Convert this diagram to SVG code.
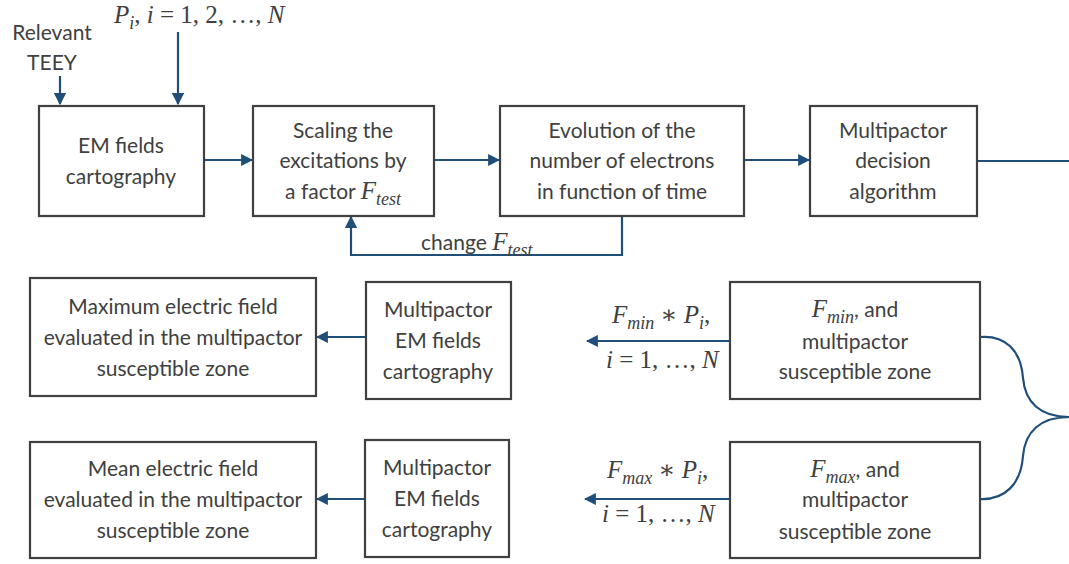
<svg xmlns="http://www.w3.org/2000/svg" width="1069" height="564" viewBox="0 0 1069 564">
<style>
.box{fill:#fff;stroke:#404040;stroke-width:2.2}
.t{font-family:Lato,"Liberation Sans",sans-serif;font-size:21px;fill:#404040;text-anchor:middle}
.m{font-family:"Liberation Serif","DejaVu Serif",serif;font-style:italic;font-size:25px;fill:#404040}
.mu{font-family:"Liberation Serif","DejaVu Serif",serif;font-style:normal;font-size:25px;fill:#404040}
.s{font-family:"Liberation Serif","DejaVu Serif",serif;font-style:italic;font-size:18px;fill:#404040}
.c{fill:none;stroke:#1F4E79;stroke-width:2.2}
</style>
<defs>
<marker id="ah" viewBox="0 0 10 10" refX="9" refY="5" markerWidth="5.5" markerHeight="5.5" orient="auto" markerUnits="strokeWidth">
<path d="M0,0 L10,5 L0,10 z" fill="#1F4E79"/>
</marker>
</defs>
<rect width="1069" height="564" fill="#fff"/>

<g id="inputs">
<text class="t" x="52" y="40">Relevant</text>
<text class="t" x="52" y="70">TEEY</text>
<text x="114" y="23"><tspan class="m">P</tspan><tspan class="s" dy="6">i</tspan><tspan class="mu" dy="-6">, </tspan><tspan class="m">i</tspan><tspan class="mu"> = 1, 2, …, </tspan><tspan class="m">N</tspan></text>
</g>

<g id="connectors">
<line class="c" x1="60" y1="76" x2="60" y2="104" marker-end="url(#ah)"/>
<line class="c" x1="178" y1="32" x2="178" y2="104" marker-end="url(#ah)"/>
<line class="c" x1="204" y1="160" x2="252" y2="160" marker-end="url(#ah)"/>
<line class="c" x1="434" y1="160" x2="499" y2="160" marker-end="url(#ah)"/>
<line class="c" x1="744" y1="160" x2="809" y2="160" marker-end="url(#ah)"/>
<line class="c" x1="977" y1="161" x2="1069" y2="161"/>
<polyline class="c" points="622,216 622,255 351,255 351,217" marker-end="url(#ah)"/>
<line class="c" x1="730" y1="341" x2="587" y2="341" marker-end="url(#ah)"/>
<line class="c" x1="366" y1="337" x2="317" y2="337" marker-end="url(#ah)"/>
<line class="c" x1="730" y1="499" x2="585" y2="499" marker-end="url(#ah)"/>
<line class="c" x1="365" y1="499" x2="317" y2="499" marker-end="url(#ah)"/>
<path class="c" d="M980,337 C1005,335 1021,350 1023,378 C1025,402 1040,417 1069,417 M1069,417 C1040,417 1025,432 1023,456 C1021,484 1005,500 980,499"/>
</g>

<g id="labels">
<text x="421" y="250"><tspan class="mu" style="font-family:Lato,'Liberation Sans',sans-serif;font-size:21px">change </tspan><tspan class="m">F</tspan><tspan class="s" dy="6">test</tspan></text>
<text x="612" y="323"><tspan class="m">F</tspan><tspan class="s" dy="6">min</tspan><tspan class="mu" dy="-6"> ∗ </tspan><tspan class="m">P</tspan><tspan class="s" dy="6">i</tspan><tspan class="mu" dy="-6">,</tspan></text>
<text x="606" y="368"><tspan class="m">i</tspan><tspan class="mu"> = 1, …, </tspan><tspan class="m">N</tspan></text>
<text x="607" y="478"><tspan class="m">F</tspan><tspan class="s" dy="6">max</tspan><tspan class="mu" dy="-6"> ∗ </tspan><tspan class="m">P</tspan><tspan class="s" dy="6">i</tspan><tspan class="mu" dy="-6">,</tspan></text>
<text x="602" y="522"><tspan class="m">i</tspan><tspan class="mu"> = 1, …, </tspan><tspan class="m">N</tspan></text>
</g>

<g id="em1">
<rect class="box" x="39" y="106" width="165" height="110"/>
<text class="t" x="121" y="153">EM fields</text>
<text class="t" x="121" y="184">cartography</text>
</g>
<g id="scaling">
<rect class="box" x="253" y="106" width="181" height="110"/>
<text class="t" x="343" y="138">Scaling the</text>
<text class="t" x="343" y="168">excitations by</text>
<text class="t" x="343" y="199">a factor <tspan class="m">F</tspan><tspan class="s" dy="6">test</tspan></text>
</g>
<g id="evolution">
<rect class="box" x="500" y="106" width="244" height="110"/>
<text class="t" x="622" y="138">Evolution of the</text>
<text class="t" x="622" y="168">number of electrons</text>
<text class="t" x="622" y="199">in function of time</text>
</g>
<g id="decision">
<rect class="box" x="810" y="106" width="167" height="110"/>
<text class="t" x="893" y="138">Multipactor</text>
<text class="t" x="893" y="168">decision</text>
<text class="t" x="893" y="199">algorithm</text>
</g>

<g id="maxfield">
<rect class="box" x="30" y="278" width="286" height="118"/>
<text class="t" x="173" y="314">Maximum electric field</text>
<text class="t" x="173" y="345">evaluated in the multipactor</text>
<text class="t" x="173" y="376">susceptible zone</text>
</g>
<g id="em2">
<rect class="box" x="366" y="282" width="145" height="117"/>
<text class="t" x="438" y="317">Multipactor</text>
<text class="t" x="438" y="348">EM fields</text>
<text class="t" x="438" y="379">cartography</text>
</g>
<g id="fmin">
<rect class="box" x="730" y="282" width="250" height="117"/>
<text class="t" x="855" y="317"><tspan class="m">F</tspan><tspan class="s" dy="6">min</tspan><tspan dy="-6">, and</tspan></text>
<text class="t" x="855" y="349">multipactor</text>
<text class="t" x="855" y="379">susceptible zone</text>
</g>

<g id="meanfield">
<rect class="box" x="30" y="442" width="286" height="116"/>
<text class="t" x="173" y="476">Mean electric field</text>
<text class="t" x="173" y="507">evaluated in the multipactor</text>
<text class="t" x="173" y="538">susceptible zone</text>
</g>
<g id="em3">
<rect class="box" x="365" y="440" width="144" height="117"/>
<text class="t" x="437" y="475">Multipactor</text>
<text class="t" x="437" y="506">EM fields</text>
<text class="t" x="437" y="537">cartography</text>
</g>
<g id="fmax">
<rect class="box" x="730" y="442" width="250" height="116"/>
<text class="t" x="855" y="477"><tspan class="m">F</tspan><tspan class="s" dy="6">max</tspan><tspan dy="-6">, and</tspan></text>
<text class="t" x="855" y="507">multipactor</text>
<text class="t" x="855" y="539">susceptible zone</text>
</g>
</svg>
